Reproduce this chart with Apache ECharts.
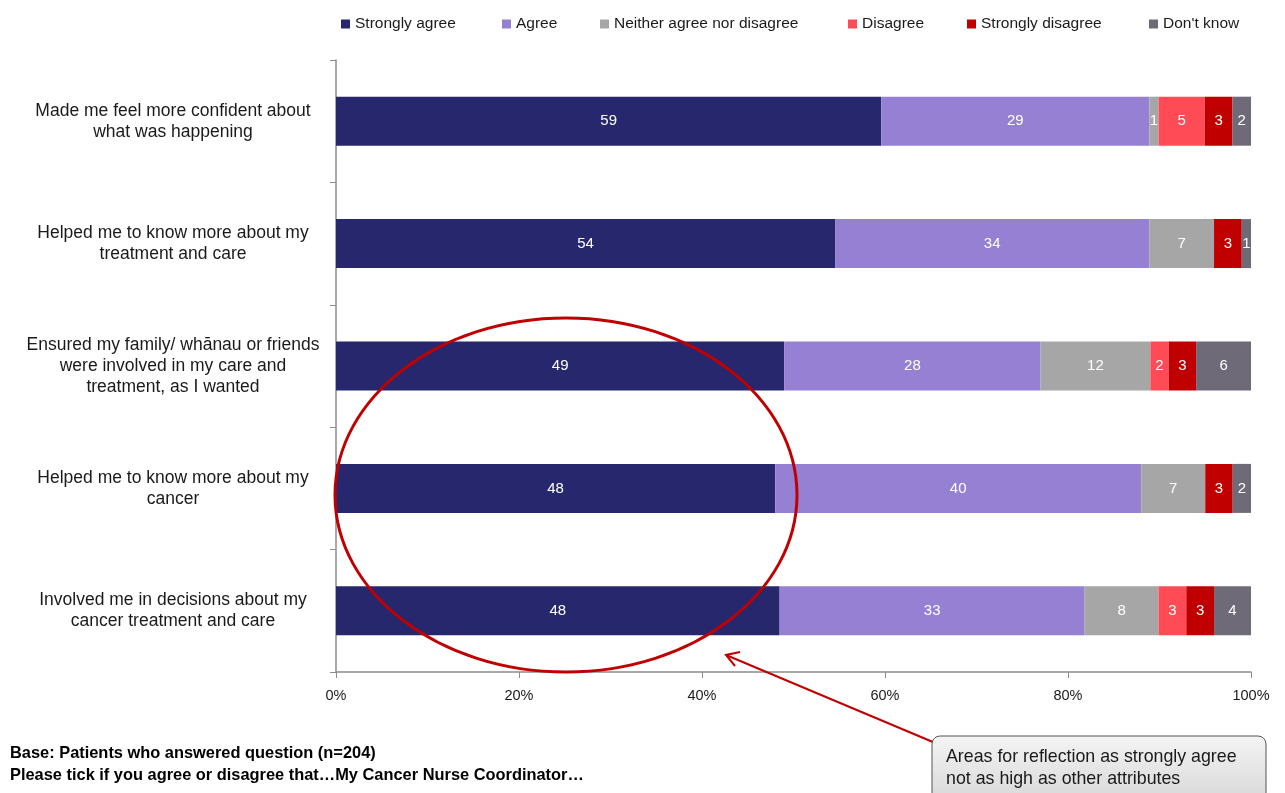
<!DOCTYPE html>
<html><head><meta charset="utf-8">
<script src="https://cdn.jsdelivr.net/npm/echarts@6/dist/echarts.min.js"></script>
<style>html,body{margin:0;padding:0;background:#fff}#c{width:1285px;height:793px}</style>
</head><body><div id="c"></div>
<script>
const categories = [
  "Made me feel more confident about\nwhat was happening",
  "Helped me to know more about my\ntreatment and care",
  "Ensured my family/ whānau or friends\nwere involved in my care and\ntreatment, as I wanted",
  "Helped me to know more about my\ncancer",
  "Involved me in decisions about my\ncancer treatment and care"
];
const seriesNames = ["Strongly agree","Agree","Neither agree nor disagree","Disagree","Strongly disagree","Don't know"];
const stronglyAgree = [59,54,49,48,48];
const agree = [29,34,28,40,33];
const neither = [1,7,12,7,8];
const disagree = [5,0,2,0,3];
const stronglyDisagree = [3,3,3,3,3];
const dontKnow = [2,1,6,2,4];
const xTicks = [0,20,40,60,80,100];
const colors = ["#27276e","#9580d4","#a6a6a6","#ff4b55","#c00000","#6e6a78"];

const raw = [stronglyAgree, agree, neither, disagree, stronglyDisagree, dontKnow];
const sums = categories.map((_, i) => raw.reduce((s, arr) => s + arr[i], 0));
const legendX = [336,497,595,843,962,1144];
const font = "'Liberation Sans', Arial, sans-serif";

const chart = echarts.init(document.getElementById('c'));
chart.setOption({
  animation: false,
  legend: seriesNames.map((n, i) => ({
    data: [n], left: legendX[i], top: 11, itemWidth: 9, itemHeight: 9, icon: 'rect',
    textStyle: { fontFamily: font, fontSize: 15.5, color: '#1a1a1a' }
  })),
  grid: { left: 336, right: 34, top: 60, bottom: 121 },
  xAxis: {
    type: 'value', min: 0, max: xTicks[xTicks.length-1], interval: 20,
    axisLine: { show: true, lineStyle: { color: '#8c8c8c', width: 1.5 } },
    axisTick: { show: true, length: 6, lineStyle: { color: '#8c8c8c' } },
    splitLine: { show: false },
    axisLabel: { formatter: '{value}%', fontFamily: font, fontSize: 14.5, color: '#1a1a1a', margin: 16 }
  },
  yAxis: {
    type: 'category', data: categories, inverse: true,
    axisLine: { show: true, lineStyle: { color: '#8c8c8c', width: 1.5 } },
    axisTick: { show: true, length: 6, lineStyle: { color: '#8c8c8c' } },
    axisLabel: { fontFamily: font, fontSize: 17.5, color: '#1a1a1a', lineHeight: 21, margin: 163, align: 'center' }
  },
  series: seriesNames.map((n, si) => ({
    name: n, type: 'bar', stack: 'all', barWidth: 49,
    itemStyle: { color: colors[si] },
    data: raw[si].map((v, i) => ({ value: v / sums[i] * 100, raw: v })),
    label: {
      show: true, position: 'inside', color: '#fff', fontFamily: font, fontSize: 15,
      formatter: p => p.data.raw > 0 ? String(p.data.raw) : ''
    }
  })),
  graphic: [
    { type: 'ellipse', shape: { cx: 566, cy: 495, rx: 231, ry: 177 }, style: { fill: 'none', stroke: '#c00000', lineWidth: 3 }, z: 100 },
    { type: 'line', shape: { x1: 940, y1: 745, x2: 726, y2: 655 }, style: { stroke: '#c00000', lineWidth: 2 }, z: 100 },
    { type: 'polyline', shape: { points: [[740, 652], [726, 655], [735, 666]] }, style: { stroke: '#c00000', lineWidth: 2, fill: 'none' }, z: 100 },
    { type: 'rect', shape: { x: 932, y: 736, width: 334, height: 70, r: 8 },
      style: { fill: new echarts.graphic.LinearGradient(0,0,0,1,[{offset:0,color:'#f4f4f4'},{offset:1,color:'#d6d6d6'}]), stroke: '#555', lineWidth: 1 }, z: 100 },
    { type: 'text', left: 946, top: 746, z: 101,
      style: { text: 'Areas for reflection as strongly agree\nnot as high as other attributes', font: "17.8px " + font, fill: '#1a1a1a', lineHeight: 22 } },
    { type: 'text', left: 10, top: 742, z: 101,
      style: { text: 'Base: Patients who answered question (n=204)\nPlease tick if you agree or disagree that…My Cancer Nurse Coordinator…',
        font: "bold 16.4px " + font, fill: '#000', lineHeight: 22 } }
  ]
});
</script></body></html>
